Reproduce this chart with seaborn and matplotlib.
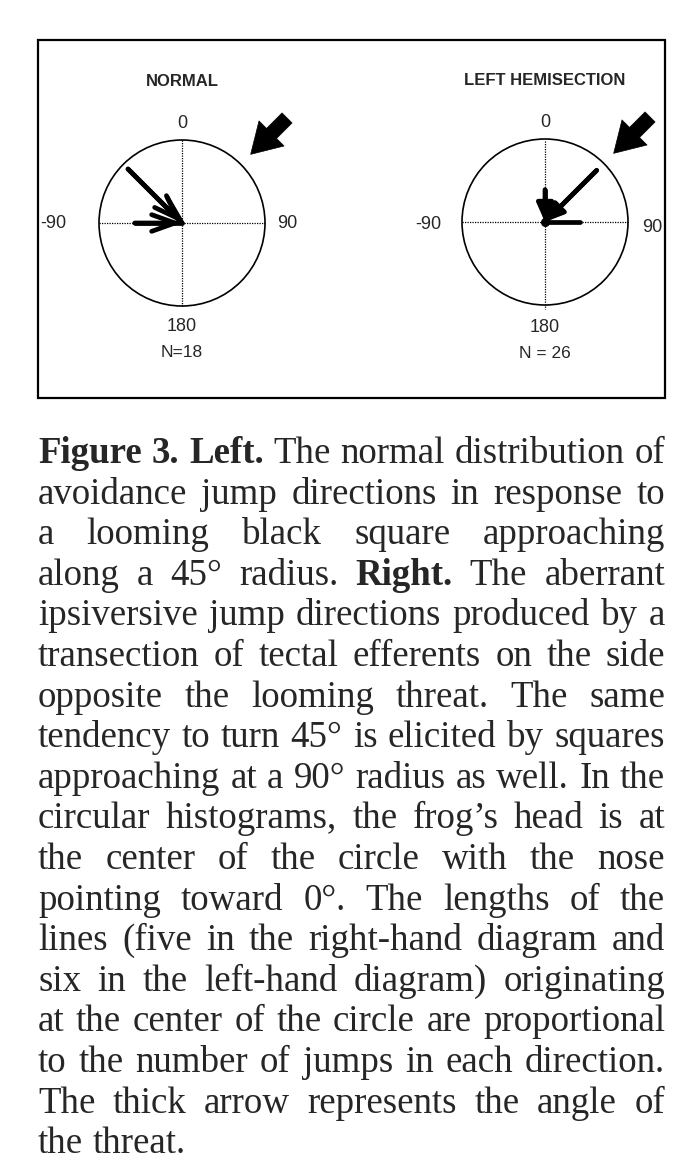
import numpy as np
import pandas as pd
import matplotlib
matplotlib.use("Agg")
import matplotlib.pyplot as plt
from matplotlib.patches import Circle, Rectangle
import seaborn as sns

# ---- data ----
titles = ["NORMAL", "LEFT HEMISECTION"]
n_labels = ["N=18", "N = 26"]
tick_labels = ["0", "90", "180", "-90"]

# jump directions (deg, 0 = nose, clockwise positive) and relative line lengths
normal_angles = [-45, -30, -90]
normal_lengths = [0.92, 0.36, 0.57]
normal_heads = [True, False, True]

hemi_angles = [45, 0, 90]
hemi_lengths = [0.88, 0.39, 0.42]
hemi_heads = [True, True, False]

threat_angle = 45

caption = [
    "*Figure* *3.* *Left.* The normal distribution of",
    "avoidance jump directions in response to",
    "a looming black square approaching",
    "along a 45° radius. *Right.* The aberrant",
    "ipsiversive jump directions produced by a",
    "transection of tectal efferents on the side",
    "opposite the looming threat. The same",
    "tendency to turn 45° is elicited by squares",
    "approaching at a 90° radius as well. In the",
    "circular histograms, the frog’s head is at",
    "the center of the circle with the nose",
    "pointing toward 0°. The lengths of the",
    "lines (five in the right-hand diagram and",
    "six in the left-hand diagram) originating",
    "at the center of the circle are proportional",
    "to the number of jumps in each direction.",
    "The thick arrow represents the angle of",
    "the threat.",
]

# ---- layout (pixels) ----
W, H = 697, 1171
R_PX = 83
HALF = 1.9
centers = [(182, 223), (545, 222)]
label_pos = [
    {"0": (0, 1.2), "90": (1.27, 0), "180": (0, -1.25), "-90": (-1.55, 0),
     "title": (0, 1.7), "n": (0, -1.56), "vline": (1.0, -1.0)},
    {"0": (0, 1.2), "90": (1.29, -0.07), "180": (0, -1.27), "-90": (-1.41, -0.03),
     "title": (0, 1.71), "n": (0, -1.58), "vline": (0.98, -1.05)},
]

sns.set_theme(style="white")
plt.rcParams["font.family"] = ["Liberation Sans", "DejaVu Sans"]

fig = plt.figure(figsize=(W / 100, H / 100), dpi=100)
fig.patch.set_facecolor("white")


def rays(angles, lengths):
    rows = []
    for i, (a, r) in enumerate(zip(angles, lengths)):
        t = np.deg2rad(a)
        rows.append({"line": i, "x": 0.0, "y": 0.0})
        rows.append({"line": i, "x": r * np.sin(t), "y": r * np.cos(t)})
    return pd.DataFrame(rows)


def draw_panel(ax, idx, angles, lengths, heads, head_style):
    pos = label_pos[idx]
    ax.set_xlim(-HALF, HALF)
    ax.set_ylim(-HALF, HALF)
    ax.set_aspect("equal")
    ax.axis("off")

    ax.add_patch(Circle((0, 0), 1.0, fill=False, ec="black", lw=1.2))
    ax.plot([-1, 1], [0, 0], ls=(0, (1, 1)), color="black", lw=0.9)
    ax.plot([0, 0], list(pos["vline"]), ls=(0, (1, 1)), color="black", lw=0.9)

    df = rays(angles, lengths)
    sns.lineplot(data=df, x="x", y="y", units="line", estimator=None, sort=False,
                 color="black", linewidth=3.4, ax=ax, legend=False)
    ends = df.groupby("line").last()
    for (_, row), head in zip(ends.iterrows(), heads):
        if head:
            ax.annotate("", xy=(0, 0), xytext=(row["x"], row["y"]),
                        arrowprops=dict(arrowstyle=head_style, lw=3.4, color="black",
                                        shrinkA=0, shrinkB=0))
    if idx == 1:
        ax.scatter([0], [0], s=30, color="black", zorder=5)

    t = np.deg2rad(threat_angle)
    tail = (1.79 * np.sin(t), 1.79 * np.cos(t))
    tip = (1.17 * np.sin(t), 1.17 * np.cos(t))
    ax.annotate("", xy=tip, xytext=tail, annotation_clip=False,
                arrowprops=dict(arrowstyle="simple,head_length=1.25,head_width=1.5,tail_width=0.6",
                                mutation_scale=17, fc="black", ec="black", lw=0.5,
                                shrinkA=0, shrinkB=0))

    for lab in tick_labels:
        x, y = pos[lab]
        ax.text(x, y, lab, ha="center", va="center", fontsize=13, clip_on=False)
    ax.text(*pos["title"], titles[idx], ha="center", va="center", fontsize=12,
            fontweight="bold", clip_on=False)
    ax.text(*pos["n"], n_labels[idx], ha="center", va="center", fontsize=12.5, clip_on=False)


panels = [(normal_angles, normal_lengths, normal_heads, "->,head_length=1.4,head_width=0.5"),
          (hemi_angles, hemi_lengths, hemi_heads, "-|>,head_length=0.9,head_width=0.4")]
size = 2 * HALF * R_PX
for idx, (cx, cy) in enumerate(centers):
    ax = fig.add_axes([(cx - size / 2) / W, 1 - (cy + size / 2) / H, size / W, size / H])
    draw_panel(ax, idx, *panels[idx])

# frame around the two diagrams
x0, y0, x1, y1 = 38, 40, 665, 398
fig.add_artist(Rectangle((x0 / W, 1 - y1 / H), (x1 - x0) / W, (y1 - y0) / H,
                         transform=fig.transFigure, fill=False, ec="black", lw=1.6))

# justified caption, font size fitted so the tightest line just fills the column
cap_font = ["Liberation Serif", "DejaVu Serif"]
left, right = 38, 665
base0, step = 463, 40.6
renderer = fig.canvas.get_renderer()


def make_words(line, size):
    out = []
    for w in line.split(" "):
        bold = w.startswith("*") and w.endswith("*")
        t = fig.text(0, 0, w.strip("*"), fontsize=size, family=cap_font,
                     fontweight="bold" if bold else "normal", va="baseline", ha="left")
        out.append(t)
    return out


probe = 20.0
sp = fig.text(0, 0, "a a", fontsize=probe, family=cap_font)
nsp = fig.text(0, 0, "aa", fontsize=probe, family=cap_font)
space_w = sp.get_window_extent(renderer).width - nsp.get_window_extent(renderer).width
sp.remove()
nsp.remove()
natural = []
for line in caption[:-1]:
    ts = make_words(line, probe)
    natural.append(sum(t.get_window_extent(renderer).width for t in ts) + space_w * (len(ts) - 1))
    for t in ts:
        t.remove()
cap_size = probe * (right - left) / max(natural) * 0.995
space_px = space_w * cap_size / probe

for i, line in enumerate(caption):
    texts = make_words(line, cap_size)
    widths = [t.get_window_extent(renderer).width for t in texts]
    if i == len(caption) - 1:
        gap = space_px
    else:
        gap = (right - left - sum(widths)) / (len(texts) - 1)
    x = left
    yb = 1 - (base0 + i * step) / H
    for t, w in zip(texts, widths):
        t.set_position((x / W, yb))
        x += w + gap

fig.savefig("out.png", dpi=100, facecolor="white")
